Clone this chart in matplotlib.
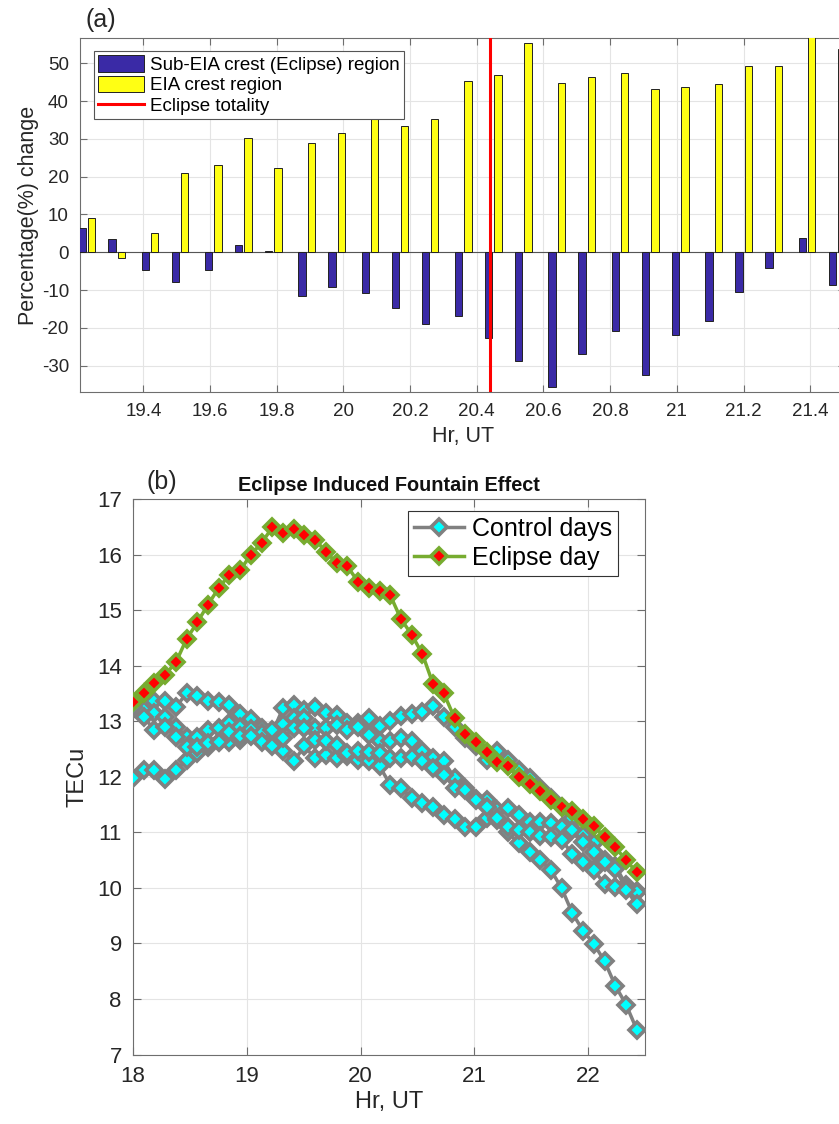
import numpy as np
import matplotlib.pyplot as plt
from matplotlib.patches import Patch
from matplotlib.lines import Line2D

plt.rcParams['font.family'] = ['Liberation Sans', 'DejaVu Sans']
plt.rcParams['axes.unicode_minus'] = False

# ---- (a) percentage change per epoch
bar_hr = [19.23, 19.32, 19.42, 19.51, 19.61, 19.70, 19.79, 19.89, 19.98, 20.08,
          20.17, 20.26, 20.36, 20.45, 20.54, 20.64, 20.73, 20.83, 20.92, 21.01,
          21.11, 21.20, 21.29, 21.39, 21.48]
sub_eia = [6.4, 3.4, -4.8, -7.8, -4.6, 1.9, 0.3, -11.5, -9.1, -10.7,
           -14.7, -19.0, -16.8, -22.6, -28.9, -35.6, -27.0, -20.8, -32.6, -21.9,
           -18.3, -10.5, -4.1, 3.9, -8.8]
eia = [9.0, -1.6, 5.1, 21.1, 23.0, 30.3, 22.4, 29.0, 31.6, 36.0,
       33.5, 35.3, 45.3, 46.9, 55.4, 44.8, 46.3, 47.4, 43.3, 43.7,
       44.4, 49.2, 49.2, 60.0, 53.7]
totality_hr = 20.44

# ---- (b) TEC, control days and eclipse day
step_hr = 0.0942
eclipse_tec = [13.34, 13.50, 13.68, 13.84, 14.06, 14.48, 14.78, 15.10, 15.40, 15.64,
               15.72, 16.00, 16.21, 16.49, 16.39, 16.46, 16.36, 16.27, 16.05, 15.85,
               15.79, 15.51, 15.40, 15.34, 15.27, 14.84, 14.56, 14.21, 13.67, 13.50,
               13.06, 12.77, 12.63, 12.45, 12.26, 12.20, 12.00, 11.87, 11.74, 11.59,
               11.45, 11.39, 11.24, 11.12, 10.91, 10.73, 10.50, 10.28]
ctrl1 = [13.24, 13.41, 13.37, 13.37, 13.26, 13.50, 13.46, 13.36, 13.35, 13.30,
         13.13, 13.04, 12.88, 12.72, 12.46, 12.28, 12.55, 12.33, 12.39, 12.34,
         12.37, 12.31, 12.29, 12.19, 11.86, 11.79, 11.62, 11.53, 11.45, 11.32,
         11.24, 11.09, 11.09, 11.26, 11.23, 11.00, 10.80, 10.64, 10.50, 10.32,
         9.99, 9.54, 9.23, 8.99, 8.68, 8.24, 7.90, 7.45]
ctrl2 = [11.97, 12.12, 12.13, 11.96, 12.12, 12.30, 12.42, 12.54, 12.63, 12.62,
         12.66, 12.76, 12.70, 12.79, 13.24, 13.30, 13.21, 13.25, 13.15, 13.11,
         12.97, 12.97, 13.05, 12.91, 13.01, 13.09, 13.13, 13.17, 13.27, 13.07,
         12.90, 12.70, 12.55, 12.31, 12.47, 12.30, 12.13, 11.97, 11.80, 11.62,
         11.45, 11.25, 10.95, 10.80, 10.50, 10.40, 10.05, 9.95]
ctrl3 = [13.22, 13.20, 13.14, 13.08, 12.90, 12.72, 12.72, 12.84, 12.88, 12.96,
         12.89, 12.86, 12.78, 12.84, 12.95, 13.05, 13.05, 12.88, 12.88, 12.93,
         12.85, 12.90, 12.76, 12.65, 12.65, 12.69, 12.64, 12.46, 12.33, 12.28,
         11.98, 11.80, 11.60, 11.58, 11.40, 11.43, 11.31, 11.19, 11.19, 11.16,
         11.10, 11.04, 10.83, 10.65, 10.47, 10.34, 9.99, 9.93]
ctrl4 = [13.26, 13.08, 12.84, 12.90, 12.72, 12.54, 12.54, 12.60, 12.62, 12.80,
         12.74, 12.74, 12.62, 12.55, 12.70, 12.88, 12.88, 12.67, 12.64, 12.58,
         12.43, 12.46, 12.45, 12.43, 12.34, 12.33, 12.35, 12.28, 12.16, 12.04,
         11.80, 11.77, 11.58, 11.45, 11.25, 11.10, 11.04, 11.01, 10.93, 10.92,
         10.86, 10.61, 10.47, 10.32, 10.07, 10.01, 9.96, 9.71]
control_days = [ctrl1, ctrl2, ctrl3, ctrl4]

BLUE = '#3a2aa6'
YELLOW = '#ffff14'
GRAY = '#808080'
GREEN = '#77ac30'
TXT = '#262626'
AXC = '#6e6e6e'

fig = plt.figure(figsize=(8.39, 11.24), dpi=100)

# ---------------- panel (a)
ax = fig.add_axes([0.0954, 0.6512, 0.912, 0.315])
x = np.array(bar_hr)
w = 0.022
ax.bar(x - 0.014, sub_eia, width=w, color=BLUE, edgecolor='#222222', linewidth=0.7, zorder=3)
ax.bar(x + 0.014, eia, width=w, color=YELLOW, edgecolor='#222222', linewidth=0.7, zorder=3)
ax.axhline(0, color='#555555', lw=0.8, zorder=2)
ax.axvline(totality_hr, color='#ff0000', lw=2.2, zorder=4)
ax.set_xlim(19.21, 21.505)
ax.set_ylim(-37, 56.7)
ax.set_xticks([19.4, 19.6, 19.8, 20, 20.2, 20.4, 20.6, 20.8, 21, 21.2, 21.4])
ax.set_xticklabels(['19.4', '19.6', '19.8', '20', '20.2', '20.4', '20.6', '20.8',
                    '21', '21.2', '21.4'])
ax.set_yticks(range(-30, 51, 10))
ax.grid(True, color='#e4e4e4', lw=0.8, zorder=0)
ax.set_axisbelow(True)
ax.tick_params(direction='in', top=True, right=True, length=5, color=AXC,
               labelsize=13.5, labelcolor=TXT, pad=8)
for s in ax.spines.values():
    s.set_color(AXC)
ax.set_xlabel('Hr, UT', fontsize=15.5, color=TXT, labelpad=4)
ax.set_ylabel('Percentage(%) change', fontsize=15.5, color=TXT, labelpad=2)
handles = [Patch(facecolor=BLUE, edgecolor='#222222', lw=0.7),
           Patch(facecolor=YELLOW, edgecolor='#222222', lw=0.7),
           Line2D([], [], color='#ff0000', lw=2.2)]
leg = ax.legend(handles, ['Sub-EIA crest (Eclipse) region', 'EIA crest region', 'Eclipse totality'],
                loc='upper left', bbox_to_anchor=(0.018, 0.963), borderaxespad=0,
                fontsize=13.5, fancybox=False, framealpha=1, edgecolor='#555555',
                handlelength=2.5, handleheight=1.0, labelspacing=0.1,
                borderpad=0.2, handletextpad=0.3)
leg.get_frame().set_linewidth(0.8)
fig.text(0.12, 0.982, '(a)', fontsize=18, color=TXT, ha='center', va='center')

# ---------------- panel (b)
bx = fig.add_axes([0.1585, 0.0618, 0.6103, 0.4942])
t = 18 + step_hr * np.arange(len(eclipse_tec))
for c in control_days:
    bx.plot(t, c, color=GRAY, lw=2.5, marker='D', ms=8, mfc='#00ffff',
            mec=GRAY, mew=2.6, zorder=3)
bx.plot(t, eclipse_tec, color=GREEN, lw=2.5, marker='D', ms=8, mfc='#ff0000',
        mec=GREEN, mew=2.6, zorder=4)
bx.set_xlim(18, 22.5)
bx.set_ylim(7, 17)
bx.set_xticks([18, 19, 20, 21, 22])
bx.set_yticks(range(7, 18))
bx.grid(True, color='#e4e4e4', lw=0.8, zorder=0)
bx.set_axisbelow(True)
bx.tick_params(direction='in', top=True, right=True, length=6, color=AXC,
               labelsize=16, labelcolor=TXT, pad=8)
for s in bx.spines.values():
    s.set_color(AXC)
bx.set_xlabel('Hr, UT', fontsize=17, color=TXT, labelpad=3)
bx.set_ylabel('TECu', fontsize=17, color=TXT, labelpad=6)
bx.set_title('Eclipse Induced Fountain Effect', fontsize=14.3, fontweight='bold',
             color='#111111', pad=6)
lh = [Line2D([], [], color=GRAY, lw=2.5, marker='D', ms=8, mfc='#00ffff', mec=GRAY, mew=2.6),
      Line2D([], [], color=GREEN, lw=2.5, marker='D', ms=8, mfc='#ff0000', mec=GREEN, mew=2.6)]
leg2 = bx.legend(lh, ['Control days', 'Eclipse day'], loc='upper right',
                 bbox_to_anchor=(0.947, 0.979), borderaxespad=0, fontsize=18,
                 fancybox=False, framealpha=1, edgecolor='#333333',
                 handlelength=2.0, labelspacing=0.2, borderpad=0.25, handletextpad=0.3)
leg2.get_frame().set_linewidth(0.8)
fig.text(0.193, 0.571, '(b)', fontsize=18, color=TXT, ha='center', va='center')

fig.savefig('out.png', dpi=100)
